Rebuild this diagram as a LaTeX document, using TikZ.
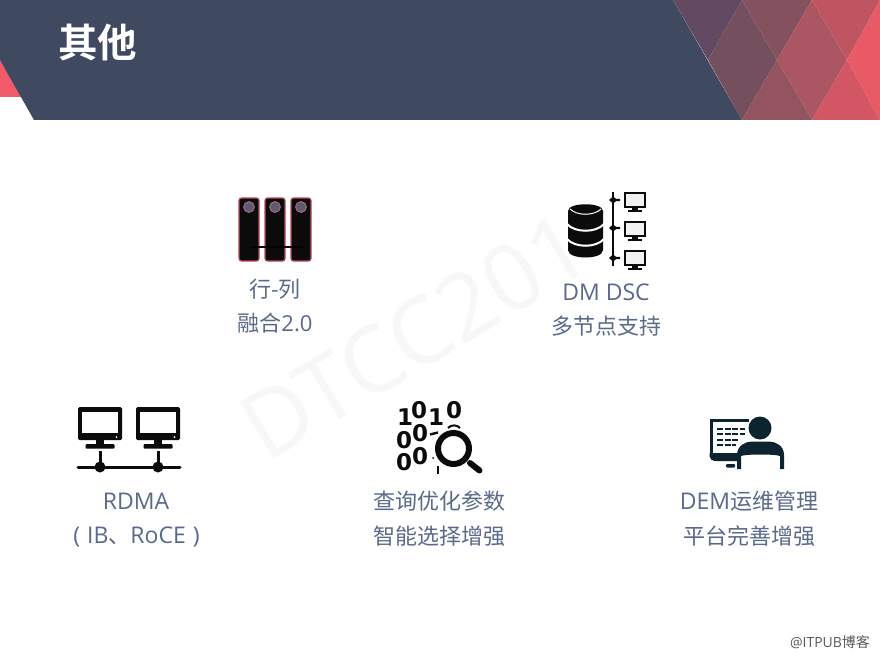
\documentclass[tikz,border=0pt]{standalone}
\usepackage{fontspec}
\setmainfont{Open Sans}
\newfontfamily\cjk{Noto Sans CJK SC}
\newfontfamily\cjkb{Noto Sans CJK SC Bold}
\newfontfamily\digitfont{DejaVu Sans Bold}
\definecolor{hdr}{HTML}{3F4A60}
\definecolor{lab}{HTML}{5A6A8A}
\definecolor{ink}{HTML}{0B0B0B}
\definecolor{teal}{HTML}{0C2430}
\definecolor{srvedge}{HTML}{BC4A5E}
\definecolor{ledc}{HTML}{5E5A72}
\definecolor{ledr}{HTML}{96607A}
\definecolor{redtri}{HTML}{F05A6A}
\definecolor{ca}{HTML}{614A62}
\definecolor{cb}{HTML}{74505F}
\definecolor{cc}{HTML}{84525F}
\definecolor{cd}{HTML}{AC5663}
\definecolor{ce}{HTML}{94545F}
\definecolor{cf}{HTML}{C05562}
\definecolor{cg}{HTML}{D25663}
\definecolor{ch}{HTML}{E85A66}
\definecolor{scr}{HTML}{F2F2F2}
\tikzset{
  lbl/.style={text=lab,inner sep=0pt,anchor=center,font=\fontsize{22}{22}\selectfont\cjk},
  lat/.style={text=lab,inner sep=0pt,anchor=center,font=\fontsize{23}{23}\selectfont},
  srv/.style={fill=ink,draw=srvedge,line width=1.2pt,rounded corners=2.5pt},
  led/.style={circle,fill=ledc,draw=ledr,line width=1.4pt,minimum size=10.5pt,inner sep=0pt},
  digit/.style={inner sep=0pt,text=ink,font=\fontsize{23}{23}\selectfont\digitfont},
}
\begin{document}
\begin{tikzpicture}[x=1pt,y=-1pt]
\useasboundingbox (0,0) rectangle (880,658);
\fill[white] (0,0) rectangle (880,658);
% watermark
\node[rotate=31,anchor=base west,text=black!3,inner sep=0pt,font=\fontsize{92}{92}\selectfont] (wm) at (266,464) {DTCC201};
% header
\fill[redtri] (0,60) -- (22,97) -- (0,97) -- cycle;
\fill[hdr] (0,0) -- (673,0) -- (742,120) -- (34,120) -- (0,60) -- cycle;
\fill[ca] (673,0) -- (742,0) -- (708,60) -- cycle;
\fill[cb] (742,0) -- (777,60) -- (742,120) -- (708,60) -- cycle;
\fill[cc] (742,0) -- (812,0) -- (777,60) -- cycle;
\fill[cd] (812,0) -- (847,60) -- (812,120) -- (777,60) -- cycle;
\fill[ce] (742,120) -- (777,60) -- (812,120) -- cycle;
\fill[cf] (812,0) -- (880,0) -- (847,60) -- cycle;
\fill[cg] (812,120) -- (847,60) -- (880,120) -- cycle;
\fill[ch] (880,0) -- (847,60) -- (880,120) -- cycle;
\node[text=white,inner sep=0pt,font=\fontsize{39.5}{39.5}\selectfont\cjkb] (title) at (97.5,43) {其他};
% icon 1: servers
\foreach \x in {239,265,291}{
  \draw[srv] (\x,198) rectangle +(20,63);
  \node[led] at (\x+10,207) {};
}
\draw[black,line width=2pt] (252,247) -- (303,247);
\node[lbl] (a1) at (275,289) {行-列};
\node[lbl] (a2) at (275,323) {融合{\fontspec{Open Sans}2.0}};
% icon 2: db and monitors
\fill[ink] (568,211) .. controls (568,202) and (603,202) .. (603,211) -- (603,250) .. controls (603,260) and (568,260) .. (568,250) -- cycle;
\draw[white,line width=1pt] (570,209) .. controls (577,216) and (594,216) .. (601,209);
\draw[white,line width=2pt] (567,224) .. controls (575,233) and (596,233) .. (604,224);
\draw[white,line width=2pt] (567,239) .. controls (575,248) and (596,248) .. (604,239);
\draw[ink,line width=2.4pt] (613,192) -- (613,266);
\foreach \y in {200,228,258}{
  \fill[ink] (609,\y) -- (613,\y-3.5) -- (616,\y-1.2) -- (620,\y-1.2) -- (620,\y+1.2) -- (616,\y+1.2) -- (613,\y+3.5) -- cycle;
}
\foreach \y in {193,222,251}{
  \draw[ink,line width=1.8pt,fill=scr] (625,\y) rectangle +(20,14);
  \fill[ink] (632,\y+15) rectangle +(6,2);
  \fill[ink] (628,\y+17) rectangle +(14,1.6);
}
\node[lat] (b1) at (606,292) {DM DSC};
\node[lbl] (b2) at (606,326) {多节点支持};
% icon 3: RDMA
\foreach \x in {78,136}{
  \fill[ink,rounded corners=1.5pt] (\x,407) rectangle +(44,33);
  \fill[white] (\x+4,412) rectangle +(36,21);
  \fill[white] (\x+38.5,437) circle (1);
  \fill[ink] (\x+18,440) rectangle +(8,5);
  \fill[ink,rounded corners=1pt] (\x+7.5,444) rectangle +(29,4.5);
  \draw[ink,line width=3pt] (\x+22,451) -- (\x+22,467);
  \fill[ink] (\x+22,467) circle (5.5);
}
\draw[ink,line width=3pt,line cap=round] (78,467) -- (180,467);
\node[lat] (c1n) at (136,501) {RDMA};
\node[lbl] (c2n) at (136.5,537) {{\fontsize{23}{23}\selectfont\fontspec{Open Sans}(\hspace{7pt}IB}、{\fontsize{23}{23}\selectfont\fontspec{Open Sans}RoCE\hspace{7pt})}};
% icon 4: data search
\foreach \x/\y/\d in {405/417/1,419/410/0,436/417/1,454/410/0,404/440/0,420/433/0,404/462/0,420/456/0}{
  \node[digit] at (\x,\y) {\d};
}
\draw[ink,line width=2.4pt] (430,434.5) -- (438,432.5);
\draw[ink,line width=2pt] (448,428) .. controls (451,424.5) and (457,424.5) .. (460,428);
\fill[ink] (433,458) circle (1);
\fill[ink] (437,466) rectangle +(2,8);
\fill[white] (453.5,448.5) circle (20);
\draw[ink,line width=6pt] (453.5,448.5) circle (15.5);
\draw[ink,line width=6pt,line cap=round] (470,463) -- (479.5,470.5);
\node[lbl] (d1) at (439,501) {查询优化参数};
\node[lbl] (d2) at (439,536) {智能选择增强};
% icon 5: DEM
\draw[teal,line width=3pt] (749,420) -- (711,420) -- (711,455);
\fill[teal] (709.5,453) -- (738,453) -- (738,461) -- (716,461) .. controls (712,461) and (709.5,459) .. (709.5,456) -- cycle;
\fill[teal,rounded corners=1pt] (726,464) rectangle +(9,3.5);
\foreach \y/\a/\b in {429/717/745,434/717/745,440/717/738,445/717/736}{
  \draw[teal,line width=2pt,dash pattern=on 6pt off 1.5pt] (\a,\y) -- (\b,\y);
}
\fill[teal] (760,428) circle (11.5);
\fill[teal] (737,469) -- (737,455) .. controls (737,446) and (745,441.5) .. (752,441.5) -- (769,441.5) .. controls (776,441.5) and (784,446) .. (784,455) -- (784,469) -- (780,469) -- (780,456) .. controls (775,454) and (746,454) .. (741,456) -- (741,469) -- cycle;
\node[lat] (e1) at (749,501) {DEM{\fontsize{22}{22}\selectfont\cjk 运维管理}};
\node[lbl] (e2) at (749,536) {平台完善增强};
% footer
\node[text=black!65,inner sep=0pt,font=\fontsize{14}{14}\selectfont\cjk] (ft) at (830,642) {{\fontspec{Open Sans}@ITPUB}博客};
\end{tikzpicture}
\end{document}
